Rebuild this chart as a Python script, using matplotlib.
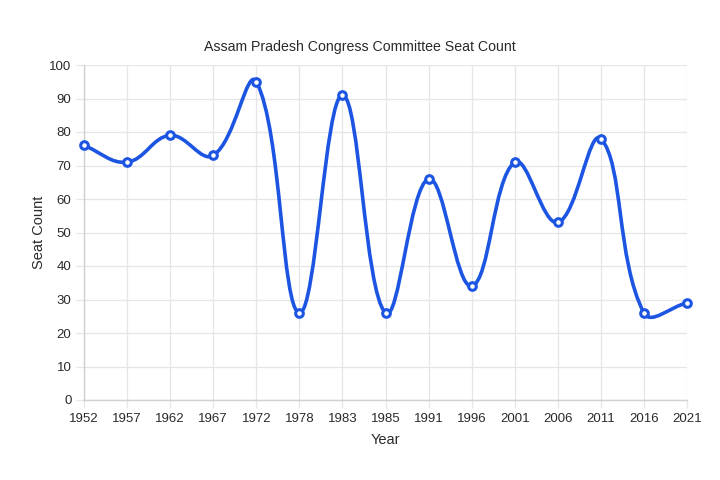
import numpy as np
import matplotlib
matplotlib.use("Agg")
import matplotlib.pyplot as plt
from matplotlib.path import Path
from matplotlib.patches import PathPatch

years = ["1952", "1957", "1962", "1967", "1972", "1978", "1983", "1985",
         "1991", "1996", "2001", "2006", "2011", "2016", "2021"]
seats = [76, 71, 79, 73, 95, 26, 91, 26, 66, 34, 71, 53, 78, 26, 29]

plt.rcParams['font.family'] = ['Liberation Sans', 'DejaVu Sans']
LINE = '#1d55e3'
GRID = '#e6e6e6'
TXT = '#2a2a2a'

fig = plt.figure(figsize=(7.2, 4.8), dpi=100)
ax = fig.add_axes([84/720, 1-400/480, (687-84)/720, (400-65)/480])
x = np.arange(len(years))
ax.set_xlim(0, len(years)-1)
ax.set_ylim(0, 100)

# Chart.js-like bezier spline (tension 0.4) computed in display space
tension = 0.4
pts = ax.transData.transform(np.column_stack([x, seats]))
n = len(pts)
verts = [pts[0]]
codes = [Path.MOVETO]
cps = []
for i in range(n):
    prev = pts[i-1] if i > 0 else pts[i]
    cur = pts[i]
    nxt = pts[i+1] if i < n-1 else pts[i]
    d01 = np.hypot(*(cur-prev))
    d12 = np.hypot(*(nxt-cur))
    tot = d01 + d12
    s01 = d01/tot if tot else 0
    s12 = d12/tot if tot else 0
    fa = tension*s01
    fb = tension*s12
    cps.append((cur - fa*(nxt-prev), cur + fb*(nxt-prev)))
for i in range(1, n):
    verts += [cps[i-1][1], cps[i][0], pts[i]]
    codes += [Path.CURVE4]*3
verts = ax.transData.inverted().transform(np.array(verts))
ax.add_patch(PathPatch(Path(verts, codes), fill=False, edgecolor=LINE,
                       lw=2.6, zorder=3, capstyle='round', joinstyle='round'))
ax.plot(x, seats, linestyle='none', marker='o', ms=5.5, mfc='white',
        mec=LINE, mew=2.2, zorder=4, clip_on=False)

ax.set_xticks(x)
ax.set_xticklabels(years)
ax.set_yticks(range(0, 101, 10))
ax.grid(True, color=GRID, lw=0.9)
ax.set_axisbelow(True)
for s in ['top', 'right']:
    ax.spines[s].set_visible(False)
for s in ['left', 'bottom']:
    ax.spines[s].set_color('#d0d0d0')
    ax.spines[s].set_linewidth(1.0)
ax.tick_params(axis='both', colors=GRID, labelcolor=TXT, labelsize=9.5,
               length=6, width=0.9)
ax.tick_params(axis='x', pad=3)
ax.tick_params(axis='y', pad=3)
ax.set_xlabel('Year', fontsize=10.5, color=TXT, labelpad=6)
ax.set_ylabel('Seat Count', fontsize=10.5, color=TXT, labelpad=2)
fig.text(0.5, 1-47/480, 'Assam Pradesh Congress Committee Seat Count',
         fontsize=10.2, color=TXT, ha='center', va='center')
fig.savefig('out.png', dpi=100, facecolor='white')
